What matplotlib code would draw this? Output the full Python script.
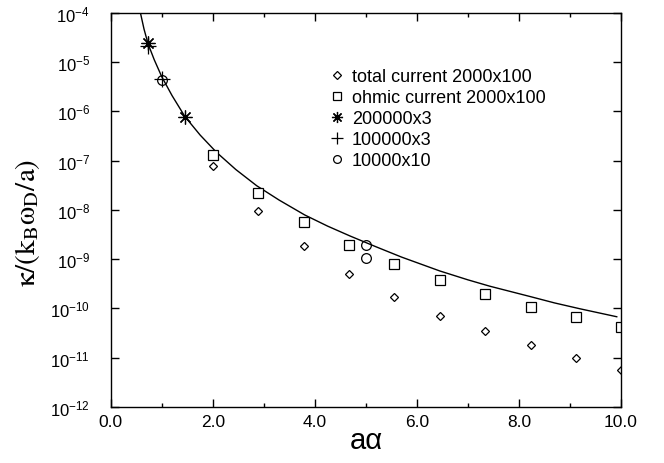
import matplotlib
matplotlib.use("Agg")
import matplotlib.pyplot as plt
import matplotlib.ticker as ticker

plt.rcParams["font.family"] = ["Liberation Sans", "DejaVu Sans"]
plt.rcParams["mathtext.fontset"] = "custom"
plt.rcParams["mathtext.rm"] = "Liberation Sans"
plt.rcParams["mathtext.it"] = "Liberation Sans:italic"

# ── Data ────────────────────────────────────────────────────────────────────
total_x = [2.0, 2.89, 3.78, 4.67, 5.56, 6.45, 7.34, 8.23, 9.12, 10.0]
total_y = [7.7e-8, 9.4e-9, 1.83e-9, 4.9e-10, 1.74e-10, 7.0e-11, 3.44e-11,
           1.79e-11, 9.9e-12, 5.7e-12]

ohmic_x = [2.0, 2.89, 3.78, 4.67, 5.56, 6.45, 7.34, 8.23, 9.12, 10.0]
ohmic_y = [1.33e-7, 2.18e-8, 5.6e-9, 1.92e-9, 7.9e-10, 3.74e-10, 1.97e-10,
           1.09e-10, 6.6e-11, 4.15e-11]

star_x = [0.73, 1.45]
star_y = [2.45e-5, 7.6e-7]

plus_x = [0.73, 1.0]
plus_y = [2.1e-5, 4.5e-6]

circ_x = [1.0, 5.0, 5.0]
circ_y = [4.36e-6, 1.95e-9, 1.03e-9]

# solid reference curve, read point by point
curve_x = [0.575, 0.65, 0.73, 0.85, 1.0, 1.2, 1.45, 1.75, 2.07, 2.45, 2.86,
           3.3, 3.8, 4.25, 4.69, 5.2, 5.7, 6.45, 7.0, 7.43, 8.22, 8.7, 9.2,
           9.92]
curve_y = [1.05e-4, 4.68e-5, 2.34e-5, 1.12e-5, 5.0e-6, 2.09e-6, 7.9e-7,
           3.31e-7, 1.48e-7, 6.6e-8, 3.09e-8, 1.58e-8, 7.9e-9, 4.68e-9,
           2.95e-9, 1.78e-9, 1.10e-9, 5.75e-10, 3.8e-10, 2.82e-10, 1.74e-10,
           1.29e-10, 9.8e-11, 6.76e-11]

# ── Figure ──────────────────────────────────────────────────────────────────
fig = plt.figure(figsize=(6.64, 4.64), dpi=100)
ax = fig.add_axes([0.167, 0.121, 0.768, 0.849])

ax.plot(curve_x, curve_y, color="black", linewidth=1.0, label="_nolegend_")
ax.plot(total_x, total_y, linestyle="none", marker="D", markersize=4.5,
        mfc="white", mec="black", mew=0.9, label="total current 2000x100")
ax.plot(ohmic_x, ohmic_y, linestyle="none", marker="s", markersize=6.5,
        mfc="white", mec="black", mew=0.9, label="ohmic current 2000x100")
ax.plot(star_x, star_y, linestyle="none", marker=(8, 2, 0), markersize=10,
        mec="black", mew=0.9, label="200000x3")
ax.plot(plus_x, plus_y, linestyle="none", marker="+", markersize=11,
        mec="black", mew=0.9, label="100000x3")
ax.plot(circ_x, circ_y, linestyle="none", marker="o", markersize=7,
        mfc="none", mec="black", mew=0.9, label="10000x10")

ax.set_yscale("log")
ax.set_xlim(0, 10)
ax.set_ylim(1e-12, 1e-4)

ax.xaxis.set_major_locator(ticker.MultipleLocator(2))
ax.xaxis.set_minor_locator(ticker.MultipleLocator(1))
ax.xaxis.set_major_formatter(ticker.FuncFormatter(lambda v, _: f"{v:.1f}"))
ax.yaxis.set_major_locator(ticker.LogLocator(base=10, numticks=20))
ax.yaxis.set_minor_locator(ticker.NullLocator())
ax.yaxis.set_major_formatter(ticker.LogFormatterMathtext())

ax.tick_params(which="both", direction="in", top=True, right=True, width=1.0)
ax.tick_params(which="major", length=6)
ax.tick_params(which="minor", length=3)
ax.tick_params(axis="x", labelsize=12.5, pad=5)
ax.tick_params(axis="y", labelsize=12, pad=15)
for s in ax.spines.values():
    s.set_linewidth(1.0)

ax.set_xlabel("a\u03b1", fontsize=21, labelpad=-2)
ax.set_ylabel(r"$\mathrm{\kappa/(k_B\omega_D/a)}$", fontsize=21, labelpad=6,
              math_fontfamily="stix")
ax.yaxis.set_label_coords(-0.135, 0.47)

ax.legend(loc="upper left", bbox_to_anchor=(0.43, 0.86), frameon=False,
          fontsize=13, handlelength=0.8, handletextpad=0.4, labelspacing=0.22,
          borderaxespad=0, borderpad=0, markerscale=0.8)

fig.savefig("out.png", dpi=100)
